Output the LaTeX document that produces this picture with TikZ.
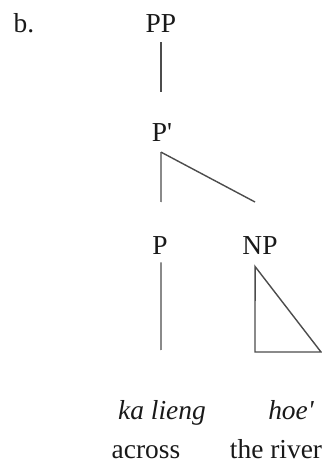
\documentclass[tikz,border=0pt]{standalone}
\usepackage{fontspec}
\setmainfont{Liberation Serif}[Ligatures=TeXOff]

\begin{document}
\begin{tikzpicture}[x=0.025cm, y=0.025cm,
  every node/.style={font=\fontsize{19.5}{22}\selectfont, inner sep=0pt, anchor=base, text=black!90},
  gloss/.style={font=\fontsize{19.5}{22}\selectfont\itshape},
  branch/.style={draw=black!70, line width=1pt}]
\useasboundingbox (0,0) rectangle (322,463);
\node (lbl) at (24,431) {b.};
\node (pp) at (161,430) {PP};
\node (pbar) at (162,321) {P'};
\node (p) at (160,208) {P};
\node (np) at (260,208) {NP};
\node[gloss] (kalieng) at (162,43) {ka lieng};
\node[gloss] (hoe) at (291,43) {hoe'};
\node (across) at (146,5) {across};
\node (river) at (276,5) {the river};
\coordinate (pp-tip) at (161,371);
\coordinate (pbar-l) at (161,261);
\coordinate (pbar-r) at (255,261);
\coordinate (p-tip) at (161,113);
\coordinate (np-bl) at (255,111);
\coordinate (np-br) at (321,111);
\draw[branch] ([yshift=-6.4pt]pp.south) -- (pp-tip);
\draw[branch] ([xshift=-0.7pt,yshift=-7pt]pbar.south) -- (pbar-l);
\draw[branch] ([xshift=-0.7pt,yshift=-7pt]pbar.south) -- (pbar-r);
\draw[branch] ([xshift=0.7pt,yshift=-5pt]p.south) -- (p-tip);
\draw[branch] ([xshift=-3.5pt,yshift=-8pt]np.south) -- (np-bl) -- (np-br) -- cycle;
\end{tikzpicture}
\end{document}
